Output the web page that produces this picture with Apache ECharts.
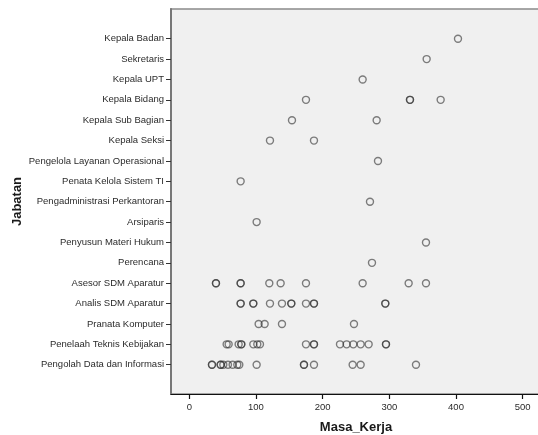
<!DOCTYPE html>
<html>
<head>
<meta charset="utf-8">
<script src="https://cdn.jsdelivr.net/npm/echarts@6/dist/echarts.min.js"></script>
<style>
  html, body { margin: 0; padding: 0; background: #ffffff; }
  #chart { width: 538px; height: 435px; }
</style>
</head>
<body>
<div id="chart"></div>
<script>
// Categories (top to bottom)
const categories = [
  "Kepala Badan",
  "Sekretaris",
  "Kepala UPT",
  "Kepala Bidang",
  "Kepala Sub Bagian",
  "Kepala Seksi",
  "Pengelola Layanan Operasional",
  "Penata Kelola Sistem TI",
  "Pengadministrasi Perkantoran",
  "Arsiparis",
  "Penyusun Materi Hukum",
  "Perencana",
  "Asesor SDM Aparatur",
  "Analis SDM Aparatur",
  "Pranata Komputer",
  "Penelaah Teknis Kebijakan",
  "Pengolah Data dan Informasi"
];

// Masa_Kerja values per category (same order as categories)
const kepalaBadan = [403];
const sekretaris = [356];
const kepalaUPT = [260];
const kepalaBidang = [175, 331, 331, 377];
const kepalaSubBagian = [154, 281];
const kepalaSeksi = [121, 187];
const pengelolaLayanan = [283];
const penataKelola = [77];
const pengadministrasi = [271];
const arsiparis = [101];
const penyusunMateri = [355];
const perencana = [274];
const asesorSDM = [40, 40, 77, 77, 120, 137, 175, 260, 329, 355];
const analisSDM = [77, 77, 96, 96, 121, 139, 153, 153, 175, 187, 187, 294, 294];
const pranataKomputer = [104, 113, 139, 247];
const penelaahTeknis = [56, 59, 74, 78, 78, 96, 102, 106, 175, 187, 187, 226, 236, 246, 257, 269, 295, 295];
const pengolahData = [34, 34, 47, 47, 51, 58, 65, 72, 75, 101, 172, 172, 187, 245, 257, 340];

const valuesByCategory = [
  kepalaBadan, sekretaris, kepalaUPT, kepalaBidang, kepalaSubBagian, kepalaSeksi,
  pengelolaLayanan, penataKelola, pengadministrasi, arsiparis, penyusunMateri,
  perencana, asesorSDM, analisSDM, pranataKomputer, penelaahTeknis, pengolahData
];

// X tick labels
const xTicks = [0, 100, 200, 300, 400, 500];

const points = [];
valuesByCategory.forEach((vals, idx) => {
  vals.forEach(v => points.push([v, idx]));
});
const catIdx = categories.map((c, i) => i);

const font = "'Liberation Sans', Arial, sans-serif";
const chart = echarts.init(document.getElementById('chart'), null, { renderer: 'canvas' });
chart.setOption({
  animation: false,
  backgroundColor: '#ffffff',
  grid: {
    left: 171, top: 9, right: -3, bottom: 41,
    containLabel: false,
    outerBoundsMode: 'none',
    show: true,
    backgroundColor: '#f0f0f0',
    borderColor: '#8a8a8a',
    borderWidth: 1.5
  },
  xAxis: {
    type: 'value',
    min: -27.45,
    max: 527.5,
    name: 'Masa_Kerja',
    nameLocation: 'middle',
    nameGap: 27,
    nameMoveOverlap: false,
    nameTextStyle: { fontFamily: font, fontSize: 13, fontWeight: 'bold', color: '#1a1a1a' },
    splitLine: { show: false },
    axisLine: { show: true, onZero: false, lineStyle: { color: '#111', width: 1.2 } },
    axisTick: { show: true, length: 5, customValues: xTicks, lineStyle: { color: '#111', width: 1.2 } },
    axisLabel: {
      customValues: xTicks,
      margin: 8,
      fontFamily: font, fontSize: 9.5, color: '#2b2b2b'
    }
  },
  yAxis: {
    type: 'value',
    inverse: true,
    min: -1.458,
    max: 17.438,
    name: 'Jabatan',
    nameLocation: 'middle',
    nameRotate: 90,
    nameGap: 147,
    nameMoveOverlap: false,
    nameTextStyle: { fontFamily: font, fontSize: 13, fontWeight: 'bold', color: '#1a1a1a' },
    splitLine: { show: false },
    axisLine: { show: true, onZero: false, lineStyle: { color: '#777', width: 2 } },
    axisTick: { show: true, length: 5, customValues: catIdx, lineStyle: { color: '#333', width: 1 } },
    axisLabel: {
      customValues: catIdx,
      margin: 7,
      fontFamily: font, fontSize: 9.5, color: '#2b2b2b',
      formatter: function (v) { return categories[Math.round(v)] || ''; }
    }
  },
  series: [{
    type: 'scatter',
    data: points,
    symbol: 'circle',
    symbolSize: 7,
    itemStyle: {
      color: 'rgba(0,0,0,0)',
      borderColor: 'rgba(45,45,45,0.75)',
      borderWidth: 1.4
    },
    emphasis: { disabled: true }
  }]
});
</script>
</body>
</html>
